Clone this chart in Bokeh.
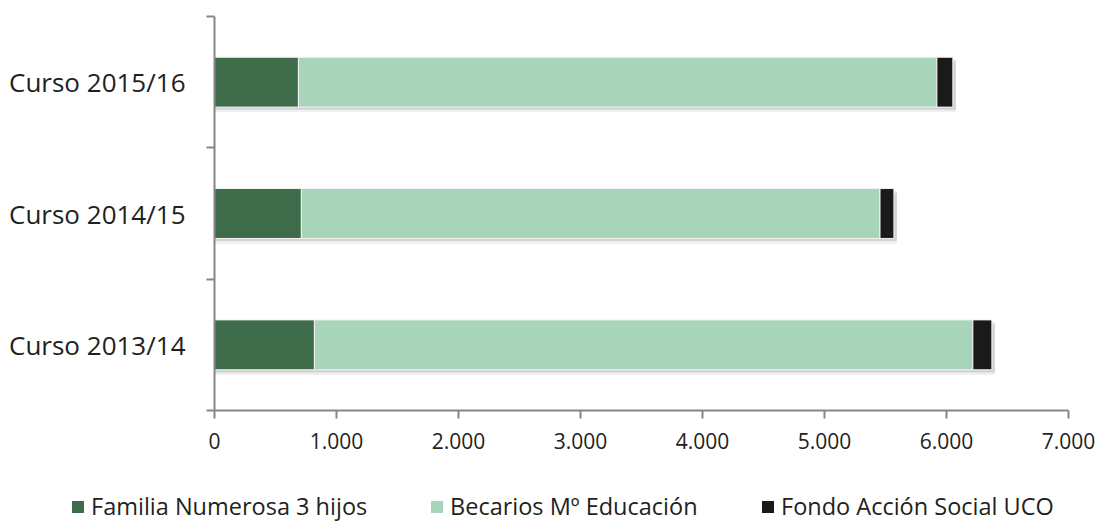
from bokeh.plotting import figure
from bokeh.layouts import column
from bokeh.models import Range1d, FixedTicker, Legend, LegendItem, ColumnDataSource
from bokeh.embed import file_html
from bokeh.resources import INLINE

# ---- data ----
cursos = ["Curso 2013/14", "Curso 2014/15", "Curso 2015/16"]
familia_numerosa = [819, 712, 688]
becarios_me = [5397, 4743, 5233]
fondo_accion = [156, 114, 131]
x_ticks = [0, 1000, 2000, 3000, 4000, 5000, 6000, 7000]
series_names = ["Familia Numerosa 3 hijos", "Becarios Mº Educación", "Fondo Acción Social UCO"]
colors = ["#3e6b4a", "#a8d5b9", "#1a1a1b"]

FONT = "Open Sans"
TXT = "#231f20"
AX = "#868686"

ypos = [i + 0.5 for i in range(len(cursos))]
s1 = familia_numerosa
s2 = [a + b for a, b in zip(s1, becarios_me)]
s3 = [a + b for a, b in zip(s2, fondo_accion)]

src = ColumnDataSource(dict(y=ypos, l0=[0] * 3, r1=s1, r2=s2, r3=s3,
                            ysh1=[y - 0.02 for y in ypos], ysh2=[y - 0.04 for y in ypos],
                            rsh=[v + 25 for v in s3]))

p = figure(width=1100, height=470, output_backend="svg", toolbar_location=None,
           x_range=Range1d(0, 7000), y_range=Range1d(0, 3),
           min_border_left=214, min_border_right=32, min_border_top=16, min_border_bottom=60)
p.outline_line_color = None
p.grid.grid_line_color = None
p.background_fill_color = "white"
p.frame_align = False

H = 0.38
# shadows
p.hbar(y="ysh2", left="l0", right="rsh", height=H, source=src, fill_color="#000000",
       fill_alpha=0.06, line_color=None)
p.hbar(y="ysh1", left="l0", right="rsh", height=H, source=src, fill_color="#000000",
       fill_alpha=0.12, line_color=None)

r1 = p.hbar(y="y", left="l0", right="r1", height=H, source=src, fill_color=colors[0],
            line_color="#f4f4f4", line_width=1)
r2 = p.hbar(y="y", left="r1", right="r2", height=H, source=src, fill_color=colors[1],
            line_color="#f4f4f4", line_width=1)
r3 = p.hbar(y="y", left="r2", right="r3", height=H, source=src, fill_color=colors[2],
            line_color="#f4f4f4", line_width=1)

# x axis
xa = p.xaxis[0]
xa.ticker = FixedTicker(ticks=x_ticks, minor_ticks=[])
xa.major_label_overrides = {t: f"{t:,}".replace(",", ".") for t in x_ticks}
xa.axis_line_color = AX
xa.axis_line_width = 2
xa.major_tick_line_color = AX
xa.major_tick_line_width = 2
xa.major_tick_out = 8
xa.major_tick_in = 0
xa.major_label_standoff = 14
xa.major_label_text_font = FONT
xa.major_label_text_font_size = "21px"
xa.major_label_text_color = TXT

# y axis
ya = p.yaxis[0]
ya.ticker = FixedTicker(ticks=ypos, minor_ticks=list(range(len(cursos) + 1)))
ya.major_label_overrides = {y: c for y, c in zip(ypos, cursos)}
ya.axis_line_color = AX
ya.axis_line_width = 2
ya.major_tick_line_color = None
ya.major_tick_out = 0
ya.major_tick_in = 0
ya.minor_tick_line_color = AX
ya.minor_tick_line_width = 2
ya.minor_tick_out = 8
ya.minor_tick_in = 0
ya.major_label_standoff = 21
ya.major_label_text_font = FONT
ya.major_label_text_font_size = "26px"
ya.major_label_text_color = TXT

# legend strip (separate figure below the chart)
lf = figure(width=1100, height=51, output_backend="svg", toolbar_location=None,
            x_range=Range1d(0, 1), y_range=Range1d(0, 1), x_axis_type=None, y_axis_type=None,
            min_border=0)
lf.outline_line_color = None
lf.grid.grid_line_color = None
lf.frame_align = False
offscreen = ColumnDataSource(dict(y=[-10], l=[0], r=[0]))
xlocs = [70, 429, 760]
for name, c, xl in zip(series_names, colors, xlocs):
    dr = lf.hbar(y="y", left="l", right="r", height=0.5, source=offscreen, fill_color=c, line_color=None)
    lg = Legend(items=[LegendItem(label=name, renderers=[dr])], location=(xl, -1),
                orientation="horizontal", border_line_color=None, background_fill_alpha=0,
                padding=0, margin=0, glyph_width=15, glyph_height=15, label_standoff=6,
                label_text_font=FONT, label_text_font_size="23.5px", label_text_color=TXT)
    lf.add_layout(lg, "center")

open("out.html", "w").write(file_html(column(p, lf, spacing=0), INLINE))
